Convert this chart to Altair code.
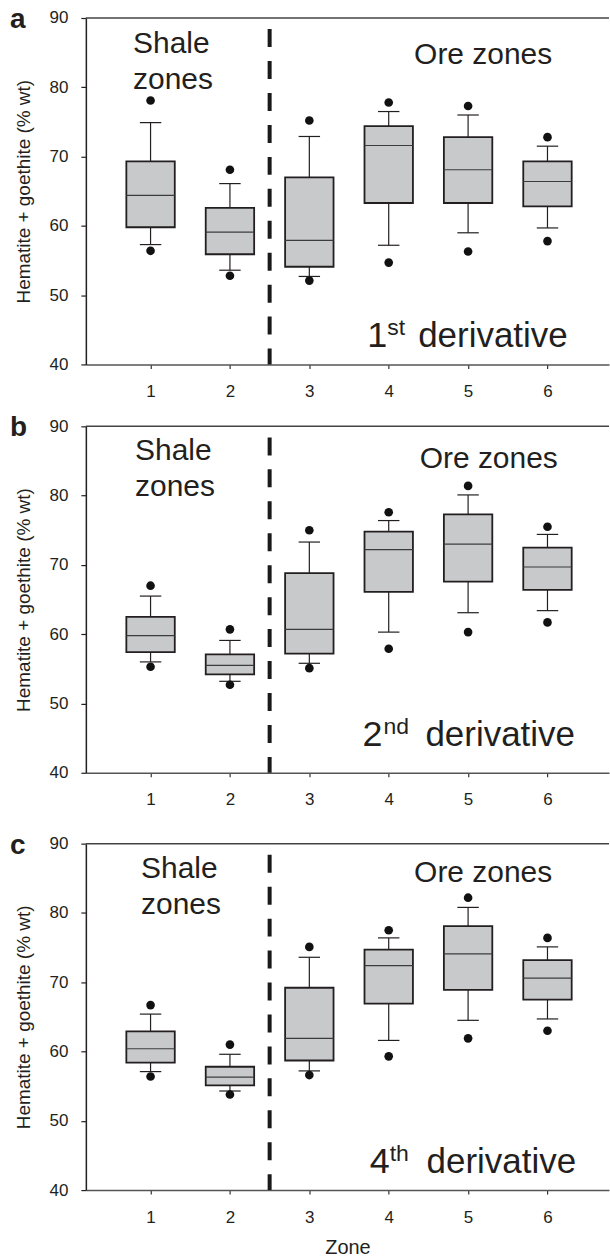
import altair as alt
import pandas as pd

zones = [1, 2, 3, 4, 5, 6]
tick_values_y = [40, 50, 60, 70, 80, 90]

# panel a: 1st derivative
a_out_hi = [78.1, 68.1, 75.2, 77.8, 77.3, 72.8]
a_wh_hi = [74.9, 66.1, 72.9, 76.5, 76.0, 71.5]
a_q3 = [69.3, 62.6, 67.0, 74.4, 72.8, 69.3]
a_med = [64.4, 59.1, 57.9, 71.6, 68.1, 66.4]
a_q1 = [59.8, 55.9, 54.1, 63.3, 63.3, 62.8]
a_wh_lo = [57.3, 53.6, 52.7, 57.2, 59.0, 59.7]
a_out_lo = [56.4, 52.8, 52.1, 54.7, 56.3, 57.8]

# panel b: 2nd derivative
b_out_hi = [67.0, 60.7, 75.0, 77.6, 81.4, 75.5]
b_wh_hi = [65.5, 59.1, 73.3, 76.4, 80.1, 74.4]
b_q3 = [62.5, 57.1, 68.8, 74.8, 77.3, 72.5]
b_med = [59.8, 55.5, 60.7, 72.2, 73.0, 69.7]
b_q1 = [57.4, 54.2, 57.2, 66.1, 67.6, 66.4]
b_wh_lo = [56.0, 53.2, 55.8, 60.3, 63.1, 63.4]
b_out_lo = [55.3, 52.7, 55.1, 57.9, 60.3, 61.7]

# panel c: 4th derivative
c_out_hi = [66.7, 61.0, 75.1, 77.5, 82.2, 76.4]
c_wh_hi = [65.4, 59.6, 73.6, 76.4, 80.8, 75.1]
c_q3 = [62.9, 57.8, 69.2, 74.7, 78.1, 73.2]
c_med = [60.4, 56.3, 61.9, 72.4, 74.1, 70.6]
c_q1 = [58.4, 55.1, 58.7, 66.9, 68.9, 67.5]
c_wh_lo = [57.1, 54.3, 57.2, 61.6, 64.5, 64.7]
c_out_lo = [56.4, 53.8, 56.6, 59.3, 61.9, 63.0]

panel_letters = ["a", "b", "c"]
deriv_digits = ["1", "2", "4"]
deriv_sups = ["st", "nd", "th"]
shale_text = "Shale\nzones"
ore_text = "Ore zones"
deriv_word = "derivative"
y_title = "Hematite + goethite (% wt)"
x_title = "Zone"

# annotation anchors (zone units, value units) and text offsets (px)
shale_x = [0.78, 0.805, 0.88]
shale_y = [85.0, 85.2, 85.1]
ore_x = [4.32, 4.39, 4.32]
ore_y = [83.4, 84.0, 84.4]
der_x = [3.73, 3.67, 3.76]
der_y = [42.5, 43.9, 42.4]
sup_dx = [20, 21, 20]
word_dx = [51, 63, 57]

X_DOMAIN = [0.185, 6.775]
W = 524
H = 347
FONT = "Liberation Sans"
INK = "#231f20"


def panel(i, out_hi, wh_hi, q3, med, q1, wh_lo, out_lo, show_x_title):
    df = pd.DataFrame({
        "zone": zones, "out_hi": out_hi, "wh_hi": wh_hi, "q3": q3,
        "med": med, "q1": q1, "wh_lo": wh_lo, "out_lo": out_lo,
    })
    xs = alt.Scale(domain=X_DOMAIN, nice=False, zero=False)
    ys = alt.Scale(domain=[40, 90], nice=False, zero=False)
    xt = x_title if show_x_title else None
    x_axis = alt.Axis(
        values=zones, format="d", grid=False, title=xt,
        domainColor="#555555", domainWidth=1.5, tickColor="#333333", tickSize=4, tickWidth=1.2,
        labelFont=FONT, labelFontSize=17, labelColor=INK, labelPadding=15,
        titleFont=FONT, titleFontSize=20, titleFontWeight="normal", titleColor=INK, titlePadding=13,
    )
    y_axis = alt.Axis(
        values=tick_values_y, grid=False, title=y_title,
        domainColor=INK, domainWidth=1.5, tickColor=INK, tickSize=5, tickWidth=1.2,
        labelFont=FONT, labelFontSize=17, labelColor=INK, labelPadding=13,
        titleFont=FONT, titleFontSize=19, titleFontWeight="normal", titleColor=INK, titlePadding=16,
    )

    def X(f):
        return alt.X(f, scale=xs, axis=x_axis, title=xt)

    def Y(f):
        return alt.Y(f, scale=ys, axis=y_axis, title=y_title)

    base = alt.Chart(df).transform_calculate(
        lo="datum.zone - 0.305", hi="datum.zone + 0.305",
        clo="datum.zone - 0.135", chi="datum.zone + 0.135",
    )

    whisk_up = base.mark_rule(color=INK, strokeWidth=1.2).encode(
        x=X("zone:Q"), y=Y("q3:Q"), y2="wh_hi:Q",
    )
    whisk_dn = base.mark_rule(color=INK, strokeWidth=1.2).encode(
        x=X("zone:Q"), y=Y("wh_lo:Q"), y2="q1:Q",
    )
    box = base.mark_rect(fill="#c8c9cb", stroke=INK, strokeWidth=1.8).encode(
        x=X("lo:Q"), x2="hi:Q", y=Y("q1:Q"), y2="q3:Q",
    )
    median = base.mark_rule(color="#3c3c3c", strokeWidth=1.2).encode(
        x=X("lo:Q"), x2="hi:Q", y=Y("med:Q"),
    )
    cap_hi = base.mark_rule(color=INK, strokeWidth=1.2).encode(
        x=X("clo:Q"), x2="chi:Q", y=Y("wh_hi:Q"),
    )
    cap_lo = base.mark_rule(color=INK, strokeWidth=1.2).encode(
        x=X("clo:Q"), x2="chi:Q", y=Y("wh_lo:Q"),
    )
    pt_hi = base.mark_circle(size=75, color="#111111", opacity=1).encode(
        x=X("zone:Q"), y=Y("out_hi:Q"),
    )
    pt_lo = base.mark_circle(size=75, color="#111111", opacity=1).encode(
        x=X("zone:Q"), y=Y("out_lo:Q"),
    )

    one = alt.Chart(pd.DataFrame({"k": [0]}))
    top_line = one.mark_rule(color="#444444", strokeWidth=1.5).encode(
        x=alt.datum(X_DOMAIN[0]), x2=alt.datum(X_DOMAIN[1]), y=alt.datum(90),
    )
    divider = one.mark_rule(color="#1a1a1a", strokeWidth=4, strokeDash=[18, 14]).encode(
        x=alt.datum(2.5), y=alt.datum(88.4), y2=alt.datum(40),
    )
    letter = one.mark_text(font=FONT, fontSize=28, fontWeight="bold", align="left",
                           baseline="alphabetic", color=INK).encode(
        x=alt.value(-76), y=alt.value(10), text=alt.value(panel_letters[i]),
    )
    shale = one.mark_text(font=FONT, fontSize=30, align="left", baseline="alphabetic",
                          lineBreak="\n", lineHeight=36, color=INK).encode(
        x=alt.datum(shale_x[i]), y=alt.datum(shale_y[i]), text=alt.value(shale_text),
    )
    ore = one.mark_text(font=FONT, fontSize=30, align="left", baseline="alphabetic", color=INK).encode(
        x=alt.datum(ore_x[i]), y=alt.datum(ore_y[i]), text=alt.value(ore_text),
    )
    dig = one.mark_text(font=FONT, fontSize=36, align="left", baseline="alphabetic", color=INK).encode(
        x=alt.datum(der_x[i]), y=alt.datum(der_y[i]), text=alt.value(deriv_digits[i]),
    )
    sup = one.mark_text(font=FONT, fontSize=23, align="left", baseline="alphabetic", color=INK,
                        dx=sup_dx[i], dy=-12).encode(
        x=alt.datum(der_x[i]), y=alt.datum(der_y[i]), text=alt.value(deriv_sups[i]),
    )
    word = one.mark_text(font=FONT, fontSize=35, align="left", baseline="alphabetic", color=INK,
                         dx=word_dx[i]).encode(
        x=alt.datum(der_x[i]), y=alt.datum(der_y[i]), text=alt.value(deriv_word),
    )

    return alt.layer(
        whisk_up, whisk_dn, box, median, cap_hi, cap_lo, pt_hi, pt_lo,
        top_line, divider, letter, shale, ore, dig, sup, word,
    ).properties(width=W, height=H)


pa = panel(0, a_out_hi, a_wh_hi, a_q3, a_med, a_q1, a_wh_lo, a_out_lo, False)
pb = panel(1, b_out_hi, b_wh_hi, b_q3, b_med, b_q1, b_wh_lo, b_out_lo, False)
pc = panel(2, c_out_hi, c_wh_hi, c_q3, c_med, c_q1, c_wh_lo, c_out_lo, True)

chart = alt.vconcat(
    alt.vconcat(pa, pb, spacing=15), pc, spacing=24
).properties(
    padding={"top": 5, "left": 10, "right": 0, "bottom": 0},
    background="white",
).configure_view(stroke=None)

chart.save("out.html", embed_options={"renderer": "svg", "actions": False})
